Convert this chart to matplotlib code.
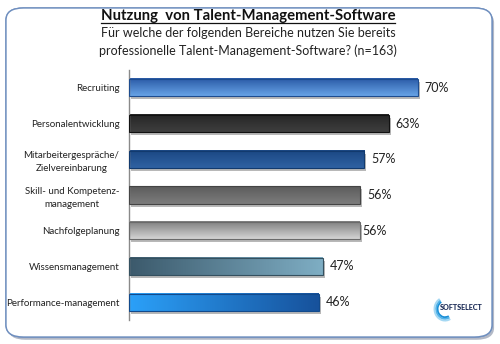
import numpy as np
import matplotlib
matplotlib.use("Agg")
import matplotlib.pyplot as plt
import matplotlib.patheffects as pe
from matplotlib.patches import FancyBboxPatch, Arc
from matplotlib.colors import LinearSegmentedColormap
from matplotlib.lines import Line2D

plt.rcParams['font.family'] = ['Lato', 'DejaVu Sans']

categories = ["Recruiting", "Personalentwicklung", "Mitarbeitergespräche/\nZielvereinbarung",
              "Skill- und Kompetenz-\nmanagement", "Nachfolgeplanung", "Wissensmanagement",
              "Performance-management"]
values = [70, 63, 57, 56, 56, 47, 46]
labels = ["70%", "63%", "57%", "56%", "56%", "47%", "46%"]

# (start colour, end colour, direction of the gradient)
fills = [("#2a5aa6", "#67a3e6", "v"),
         ("#262626", "#3e3e3e", "v"),
         ("#1b4783", "#2f62a2", "v"),
         ("#5c5c5c", "#7c7c7c", "v"),
         ("#7e7e7e", "#d4d4d4", "v"),
         ("#3c5a6c", "#7eadc3", "h"),
         ("#2ba0f8", "#17529c", "h")]
edges = ["#1d4c8f", "#111111", "#123a6e", "#444444", "#6a6a6a", "#34505f", "#124a8c"]

fig = plt.figure(figsize=(5.0, 3.44), dpi=100)

# rounded frame with a soft shadow
frame = FancyBboxPatch((6 / 500, 7 / 344), 486 / 500, 329 / 344,
                       boxstyle="round,pad=0,rounding_size=0.035",
                       transform=fig.transFigure, facecolor="white",
                       edgecolor="#6f8fbf", linewidth=1.0, zorder=-5,
                       path_effects=[pe.withSimplePatchShadow(offset=(1.5, -2), shadow_rgbFace="#7f8aa0", alpha=0.6),
                                     pe.Normal()])
fig.patches.append(frame)

ax = fig.add_axes([129 / 500, 1 - 320 / 344, 330 / 500, 250 / 344])
ax.set_facecolor("none")
y = np.arange(len(values))
bars = ax.barh(y, values, height=0.48, color="none", edgecolor="none")
ax.set_xlim(0, 80)
ax.set_ylim(len(values) - 0.5, -0.5)

for i, (bar, (c0, c1, d)) in enumerate(zip(bars, fills)):
    x0, y0 = bar.get_x(), bar.get_y()
    w, h = bar.get_width(), bar.get_height()
    cmap = LinearSegmentedColormap.from_list("g%d" % i, [c0, c1])
    grad = np.linspace(0, 1, 64)
    img = grad.reshape(-1, 1) if d == "v" else grad.reshape(1, -1)
    ax.imshow(img, cmap=cmap, aspect="auto", extent=(x0, x0 + w, y0 + h, y0),
              origin="upper", zorder=2, interpolation="bicubic")
    ax.add_patch(plt.Rectangle((x0, y0), w, h, facecolor="none", edgecolor=edges[i],
                               linewidth=0.8, zorder=3))
    shadow = plt.Rectangle((x0, y0), w, h, facecolor="white", edgecolor="none", zorder=1,
                           path_effects=[pe.withSimplePatchShadow(offset=(1.5, -2.2), shadow_rgbFace="#9a9a9a", alpha=0.7)])
    ax.add_patch(shadow)
    off = 1.5 if i == 4 else 5
    ax.annotate(labels[i], (values[i], y[i]), xytext=(off, 0), textcoords="offset points",
                va="center", ha="left", fontsize=9, color="#222222")

ax.set_yticks(y)
ax.set_yticklabels(categories, fontsize=7, color="#222222", multialignment="center",
                   linespacing=1.55)
ax.tick_params(axis="y", length=0, pad=7)
ax.set_xticks([])
for s in ["top", "right", "bottom"]:
    ax.spines[s].set_visible(False)
ax.spines["left"].set_color("#8a8a8a")
ax.spines["left"].set_linewidth(1.0)

title = fig.text(248 / 500, 1 - 16 / 344, "Nutzung  von Talent-Management-Software",
                 ha="center", va="center", fontsize=10.7, fontweight="bold", color="#111111")
fig.text(248 / 500, 1 - 33 / 344, "Für welche der folgenden Bereiche nutzen Sie bereits",
         ha="center", va="center", fontsize=9, color="#222222")
fig.text(248 / 500, 1 - 51 / 344, "professionelle Talent-Management-Software? (n=163)",
         ha="center", va="center", fontsize=9, color="#222222")

# underline the title
fig.canvas.draw()
bb = title.get_window_extent()
fig.add_artist(Line2D([bb.x0 / 500, bb.x1 / 500], [(bb.y0 + 0.5) / 344] * 2,
                      transform=fig.transFigure, color="#111111", linewidth=0.9))

# small logo in the corner
for k, r in enumerate([0.030, 0.036, 0.042]):
    fig.add_artist(Arc((445 / 500, 1 - 309 / 344), r, r * 500 / 344 * 1.1, theta1=110, theta2=290,
                       transform=fig.transFigure, color=["#1b8fd6", "#52b2e8", "#a5d8f3"][k], linewidth=1.4))
fig.text(440 / 500, 1 - 308 / 344, "SOFTSELECT", ha="left", va="center", fontsize=5.2,
         fontweight="black", color="#1a2a55")

fig.savefig("out.png", dpi=100)
